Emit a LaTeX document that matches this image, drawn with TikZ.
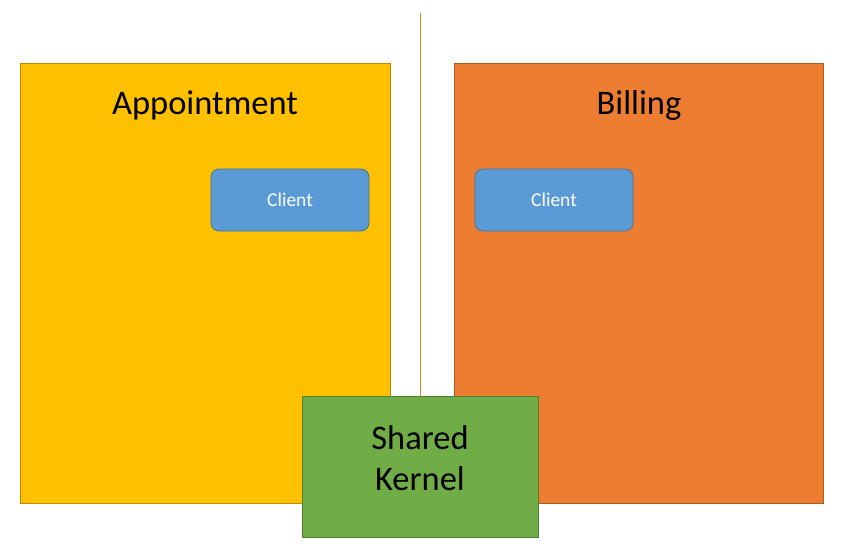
\documentclass[tikz,border=0pt]{standalone}
\usepackage{fontspec}
\setmainfont{Carlito}
\definecolor{apfill}{HTML}{FFC000}
\definecolor{apdraw}{HTML}{BC8C00}
\definecolor{bifill}{HTML}{ED7D31}
\definecolor{bidraw}{HTML}{AE5A21}
\definecolor{clfill}{HTML}{5B9BD5}
\definecolor{cldraw}{HTML}{41719C}
\definecolor{skfill}{HTML}{70AD47}
\definecolor{skdraw}{HTML}{507E32}
\tikzset{
  ctx/.style={line width=0.75pt, inner sep=0pt},
  client/.style={rounded corners=8pt, fill=clfill, draw=cldraw, line width=0.75pt},
  title/.style={font=\fontsize{34.5}{40}\selectfont, text=black},
  cltext/.style={font=\fontsize{19.5}{22}\selectfont, text=white},
}
\begin{document}
\begin{tikzpicture}[x=1pt,y=-1pt]
\useasboundingbox (0,0) rectangle (842,550);
\fill[white] (0,0) rectangle (842,550);
% contexts
\draw[ctx, fill=apfill, draw=apdraw] (20,63) rectangle (390,503);
\draw[ctx, fill=bifill, draw=bidraw] (454,63) rectangle (823,503);
\coordinate (top) at (420,13);
\coordinate (bot) at (420,396);
\draw[bifill, line width=1pt] (top) -- (bot);
\node[title] (ap) at (205,105) {Appointment};
\node[title] (bi) at (639,105) {Billing};
\draw[client] (211,169) rectangle (369,231);
\node[cltext] (c1) at (290,200) {Client};
\draw[client] (475,169) rectangle (633,231);
\node[cltext] (c2) at (554,200) {Client};
\draw[fill=skfill, draw=skdraw, line width=0.75pt] (302,396) rectangle (538,537);
\node[title, font=\fontsize{34.5}{41}\selectfont, align=center] (sk) at (420,458) {Shared\\Kernel};
\end{tikzpicture}
\end{document}
